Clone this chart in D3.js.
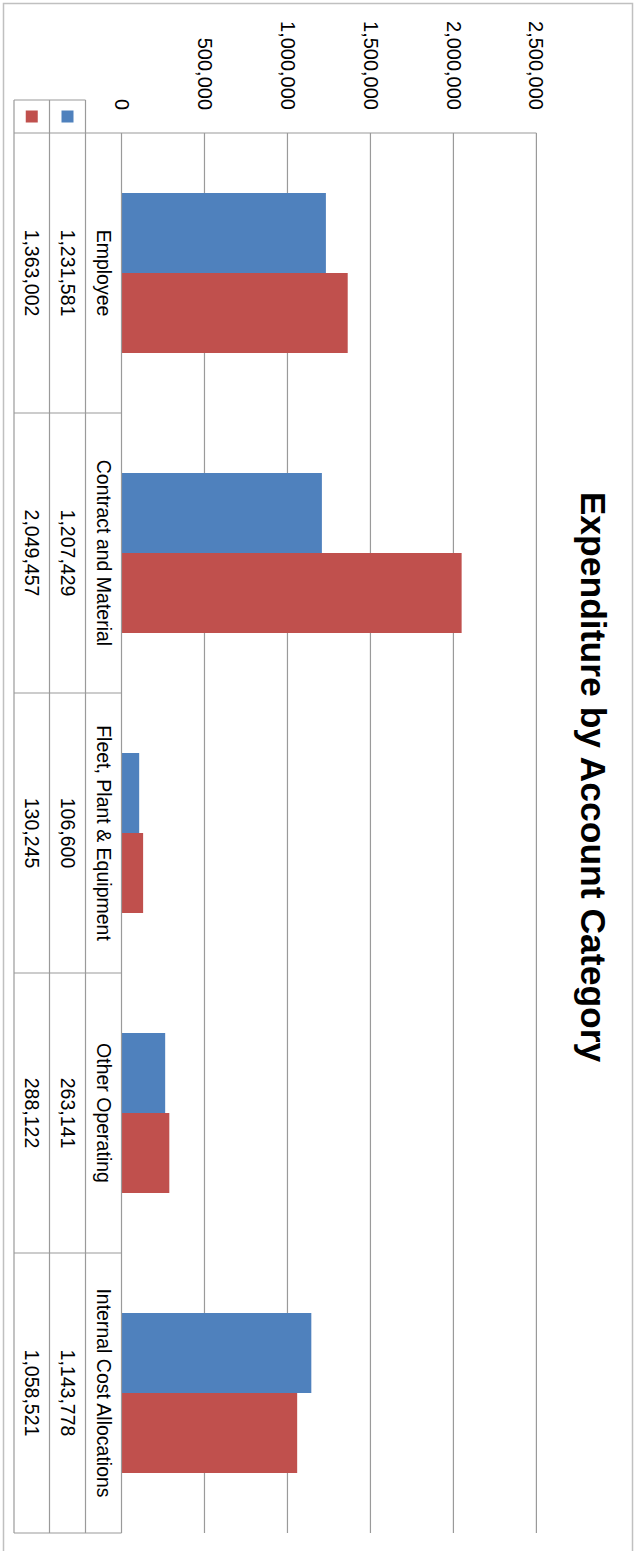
<!DOCTYPE html>
<html>
<head>
<meta charset="utf-8">
<script src="https://cdn.jsdelivr.net/npm/d3@7"></script>
<style>
  html, body { margin: 0; padding: 0; background: #fff; }
  svg { display: block; }
  text { font-family: "Liberation Sans", Arial, sans-serif; fill: #000; }
</style>
</head>
<body>
<svg id="chart" width="635" height="1551"></svg>
<script>
// ---- data ----
const categories = ["Employee", "Contract and Material", "Fleet, Plant & Equipment", "Other Operating", "Internal Cost Allocations"];
const seriesNames = ["blue", "red"];
const blueValues = [1231581, 1207429, 106600, 263141, 1143778];
const redValues  = [1363002, 2049457, 130245, 288122, 1058521];
const tickValues = [0, 500000, 1000000, 1500000, 2000000, 2500000];
const titleText = "Expenditure by Account Category";

const colors = { blue: "#4F81BD", red: "#C0504D" };
const gridColor = "#9a9a9a";

const svg = d3.select("#chart");
const PW = 635, PH = 1551;

// outer border (page coords)
svg.append("rect")
  .attr("x", 3.5).attr("y", 3.5).attr("width", 629).attr("height", 1560)
  .attr("fill", "#fff").attr("stroke", "#c0c0c0").attr("stroke-width", 1.5);

// chart drawn in its unrotated frame (width = page height), then rotated 90° clockwise
const g = svg.append("g").attr("transform", `translate(${PW},0) rotate(90)`);

const plotLeft = 133, plotRight = 1533;
const x = d3.scaleBand().domain(categories).range([plotLeft, plotRight]).padding(0);
const xs = d3.scaleBand().domain(seriesNames).range([0, x.bandwidth()]).paddingInner(0).paddingOuter(0.75);
const y = d3.scaleLinear().domain([0, 2500000]).range([513.5, 98.6]);

// gridlines
g.append("g").selectAll("line").data(tickValues.slice(1)).join("line")
  .attr("x1", plotLeft).attr("x2", plotRight)
  .attr("y1", d => y(d)).attr("y2", d => y(d))
  .attr("stroke", gridColor).attr("stroke-width", 1.2);

// tick labels
const yAxis = d3.axisLeft(y).tickValues(tickValues).tickFormat(d3.format(",")).tickSize(0).tickPadding(0);
const axisG = g.append("g").attr("transform", `translate(110,0)`).call(yAxis);
axisG.select(".domain").remove();
axisG.selectAll("text").attr("font-size", 20).attr("fill", "#000")
  .style("font-family", '"Liberation Sans", Arial, sans-serif');

// bars
const rows = categories.map((c, i) => ({ cat: c, blue: blueValues[i], red: redValues[i] }));
seriesNames.forEach(s => {
  g.append("g").selectAll("rect").data(rows).join("rect")
    .attr("x", d => x(d.cat) + xs(s))
    .attr("width", xs.bandwidth())
    .attr("y", d => y(d[s]))
    .attr("height", d => y(0) - y(d[s]))
    .attr("fill", colors[s]);
});

// title (centred on the whole chart area)
g.append("text")
  .attr("x", 777)
  .attr("y", 54)
  .attr("text-anchor", "middle")
  .attr("font-size", 35.5)
  .attr("font-weight", "bold")
  .text(titleText);

// data table
const rowY = [y(0), 549.5, 585.5, 621]; // category row, blue row, red row boundaries
const legendTop = 100;
const tbl = g.append("g").attr("stroke", gridColor).attr("stroke-width", 1.2).attr("fill", "none");
// axis / plot-left line spanning the table and plot
tbl.append("line").attr("x1", plotLeft).attr("x2", plotLeft).attr("y1", y(2500000)).attr("y2", rowY[3]);
// horizontal row lines
rowY.forEach((ry, i) => {
  tbl.append("line")
    .attr("x1", i === 0 ? plotLeft : legendTop).attr("x2", plotRight)
    .attr("y1", ry).attr("y2", ry);
});
// legend header top
tbl.append("line").attr("x1", legendTop).attr("x2", legendTop).attr("y1", rowY[1]).attr("y2", rowY[3]);
// category separators
categories.forEach(c => {
  tbl.append("line")
    .attr("x1", x(c) + x.bandwidth()).attr("x2", x(c) + x.bandwidth())
    .attr("y1", rowY[0]).attr("y2", rowY[3]);
});

// legend keys
[["blue", (rowY[1] + rowY[2]) / 2], ["red", (rowY[2] + rowY[3]) / 2]].forEach(([s, cy]) => {
  g.append("rect").attr("x", 110.5).attr("y", cy - 6).attr("width", 12).attr("height", 12).attr("fill", colors[s]);
});

// table texts
const fmt = d3.format(",");
const tableRows = [
  { cy: (rowY[0] + rowY[1]) / 2, vals: categories },
  { cy: (rowY[1] + rowY[2]) / 2, vals: blueValues.map(fmt) },
  { cy: (rowY[2] + rowY[3]) / 2, vals: redValues.map(fmt) }
];
tableRows.forEach(r => {
  g.append("g").selectAll("text").data(r.vals).join("text")
    .attr("x", (d, i) => x(categories[i]) + x.bandwidth() / 2)
    .attr("y", r.cy)
    .attr("dy", "0.35em")
    .attr("text-anchor", "middle")
    .attr("font-size", 19.5)
    .text(d => d);
});
</script>
</body>
</html>
